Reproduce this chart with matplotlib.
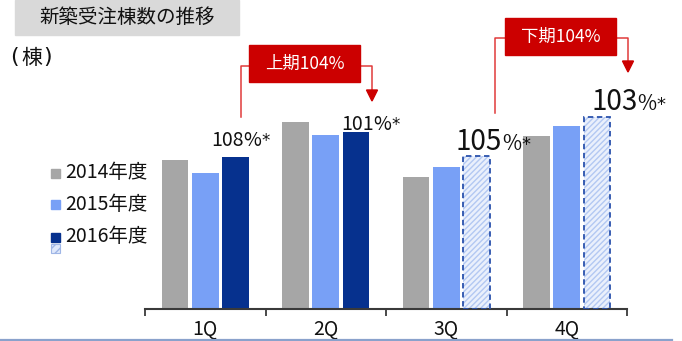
import matplotlib
matplotlib.use("Agg")
import matplotlib.pyplot as plt
from matplotlib.patches import Rectangle, Polygon
from matplotlib.lines import Line2D
import numpy as np

plt.rcParams['font.family'] = ['Noto Sans CJK JP', 'DejaVu Sans']
plt.rcParams['hatch.linewidth'] = 1.0

# Data
quarters = ['1Q', '2Q', '3Q', '4Q']
years = ['2014年度', '2015年度', '2016年度']
orders_2014 = [1490, 1867, 1320, 1730]
orders_2015 = [1363, 1737, 1423, 1833]
orders_2016 = [1520, 1770, 1533, 1917]
forecast_2016 = [False, False, True, True]
ratio_labels = ['108', '101', '105', '103']
half_labels = ['上期104%', '下期104%']
unit_label = '棟'

C_2014 = '#a6a6a6'
C_2015 = '#78a0f6'
C_2016 = '#06318e'
RED = '#cc0000'
TXT = '#111111'

W, H = 682, 341
fig = plt.figure(figsize=(W / 100, H / 100), dpi=100)


def fx(x):
    return x / W


def fy(y):
    return 1 - y / H


ax = fig.add_axes([fx(145), fy(309), fx(627) - fx(145), fy(0) - fy(309)])
ax.set_xlim(-0.5, 3.5)
ax.set_ylim(0, 3090)

x = np.arange(len(quarters))
bw = 0.22
off = 0.253
ax.bar(x - off, orders_2014, bw, color=C_2014, zorder=2)
ax.bar(x, orders_2015, bw, color=C_2015, zorder=2)
for xi, v, fc in zip(x, orders_2016, forecast_2016):
    if fc:
        ax.bar(xi + off, v, bw, color='#eaf0fc', edgecolor='#b3c8f2', hatch='//////',
               linewidth=0, zorder=2)
        ax.bar(xi + off, v, bw, fill=False, edgecolor='#2a52ad', linewidth=1.3,
               linestyle=(0, (3, 2)), zorder=3)
    else:
        ax.bar(xi + off, v, bw, color=C_2016, zorder=2)

for s in ['top', 'left', 'right']:
    ax.spines[s].set_visible(False)
ax.spines['bottom'].set_color('#3a3a3a')
ax.spines['bottom'].set_linewidth(1.5)
ax.set_yticks([])
ax.set_xticks(x)
ax.set_xticklabels(quarters, fontsize=14, color=TXT)
ax.tick_params(axis='x', which='major', length=0, pad=7)
ax.set_xticks(np.arange(-0.5, 4.0, 1.0), minor=True)
ax.tick_params(axis='x', which='minor', length=5, width=1.3, color='#3a3a3a',
               direction='out')

# Title box
fig.patches.append(Rectangle((fx(15), fy(35)), fx(239) - fx(15), fy(0) - fy(35),
                             transform=fig.transFigure, color='#d9d9d9', zorder=0))
fig.text(fx(127), fy(17), '新築受注棟数の推移', fontsize=14, ha='center', va='center',
         color=TXT)

# Unit label
fig.text(fx(10), fy(57), '(', fontsize=16, ha='left', va='center', color=TXT,
         family=['DejaVu Sans'])
fig.text(fx(31.5), fy(58), unit_label, fontsize=15, ha='center', va='center', color=TXT)
fig.text(fx(52), fy(57), ')', fontsize=16, ha='right', va='center', color=TXT,
         family=['DejaVu Sans'])

# Legend
legend_rows = [(C_2014, 173), (C_2015, 204), (C_2016, 237)]
for (c, yc), label in zip(legend_rows, years):
    fig.patches.append(Rectangle((fx(51), fy(yc + 4.5)), fx(9), 9 / H,
                                 transform=fig.transFigure, color=c))
    fig.text(fx(65), fy(yc), label, fontsize=14, ha='left', va='center', color=TXT)
fig.patches.append(Rectangle((fx(51), fy(253)), fx(9), 9 / H, transform=fig.transFigure,
                             facecolor='#dfe8fb', edgecolor='#9fb6e6', hatch='////',
                             linewidth=0.8))

# Ratio labels with mixed sizes
renderer = fig.canvas.get_renderer()


def rich(x_px, y_px, pieces):
    cur = x_px
    for txt, size, fam in pieces:
        t = fig.text(fx(cur), fy(y_px), txt, fontsize=size, ha='left', va='baseline',
                     color=TXT, family=fam)
        bb = t.get_window_extent(renderer=renderer)
        cur += bb.width


CJK = ['Noto Sans CJK JP', 'DejaVu Sans']
STAR = ['DejaVu Sans']
rich(211, 146, [(ratio_labels[0], 14, CJK), ('%', 14, CJK), ('*', 12, STAR)])
rich(341, 130, [(ratio_labels[1], 14, CJK), ('%', 14, CJK), ('*', 12, STAR)])
rich(456, 150, [(ratio_labels[2], 20, CJK), ('%', 15, CJK), ('*', 13, STAR)])
rich(591, 110, [(ratio_labels[3], 20, CJK), ('%', 15, CJK), ('*', 13, STAR)])


# Half-year callouts
def callout(box, left_x, left_bottom, right_x, arrow_tip, mid_y, text):
    x0, y0, x1, y1 = box
    fig.patches.append(Rectangle((fx(x0), fy(y1)), fx(x1 - x0), (y1 - y0) / H,
                                 transform=fig.transFigure, color=RED, zorder=5))
    fig.text(fx((x0 + x1) / 2), fy((y0 + y1) / 2), text, fontsize=12.5, color='white',
             ha='center', va='center', zorder=6)
    lc = '#e03a3a'
    fig.lines.append(Line2D([fx(x0), fx(left_x), fx(left_x)],
                            [fy(mid_y), fy(mid_y), fy(left_bottom)],
                            transform=fig.transFigure, color=lc, lw=1.1, zorder=4))
    fig.lines.append(Line2D([fx(x1), fx(right_x), fx(right_x)],
                            [fy(mid_y), fy(mid_y), fy(arrow_tip - 10)],
                            transform=fig.transFigure, color=lc, lw=1.1, zorder=4))
    fig.patches.append(Polygon([(fx(right_x - 5.5), fy(arrow_tip - 11)),
                                (fx(right_x + 5.5), fy(arrow_tip - 11)),
                                (fx(right_x), fy(arrow_tip))],
                               closed=True, transform=fig.transFigure, color=RED, zorder=5))


callout((249, 45, 360, 82), 241, 117, 372, 101, 66, half_labels[0])
callout((505, 18, 616, 55), 495, 113, 628, 72, 38, half_labels[1])

# Bottom rule
fig.lines.append(Line2D([0, fx(672)], [fy(339.5), fy(339.5)], transform=fig.transFigure,
                        color='#8aa2cc', lw=1.6))

fig.savefig('out.png', dpi=100)
